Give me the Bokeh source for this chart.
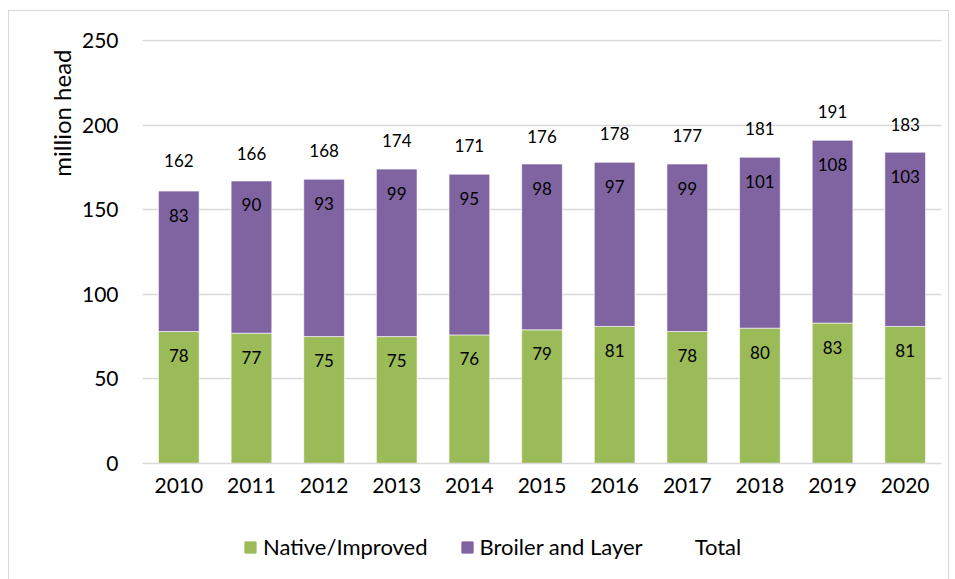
from bokeh.plotting import figure
from bokeh.models import (ColumnDataSource, LabelSet, Legend, LegendItem, FactorRange, Range1d, Title)
from bokeh.layouts import column
from bokeh.core.properties import value
from bokeh.embed import file_html
from bokeh.resources import INLINE

years = ["2010", "2011", "2012", "2013", "2014", "2015", "2016", "2017", "2018", "2019", "2020"]
native = [78, 77, 75, 75, 76, 79, 81, 78, 80, 83, 81]
broiler = [83, 90, 93, 99, 95, 98, 97, 99, 101, 108, 103]
total = [162, 166, 168, 174, 171, 176, 178, 177, 181, 191, 183]
y_ticks = [0, 50, 100, 150, 200, 250]
y_title = "million head"
series_names = ["Native/Improved", "Broiler and Layer", "Total"]

FONT = "Lato"
GREEN = "#9BBB59"
PURPLE = "#8064A2"
GRID = "#D9D9D9"

stack_top = [n + b for n, b in zip(native, broiler)]
src = ColumnDataSource(dict(
    year=years, native=native, broiler=broiler, total=total,
    native_s=[str(v) for v in native], broiler_s=[str(v) for v in broiler],
    total_s=[str(v) for v in total], top=stack_top,
))

p = figure(x_range=FactorRange(*years), y_range=Range1d(0, 250.6),
           width=939, height=504, output_backend="svg", toolbar_location=None,
           min_border_left=133, min_border_right=7, min_border_top=28, min_border_bottom=52)
p.outline_line_color = None

r = p.vbar_stack(["native", "broiler"], x="year", width=0.56, source=src,
                 color=[GREEN, PURPLE], line_color="white", line_width=1, line_alpha=0.6)

common = dict(source=src, text_font=value(FONT), text_font_size="17px", text_color="#000000",
              text_align="center", text_baseline="middle")
p.add_layout(LabelSet(x="year", y="native", text="native_s", y_offset=-24, **common))
p.add_layout(LabelSet(x="year", y="top", text="broiler_s", y_offset=-24, **common))
p.add_layout(LabelSet(x="year", y="total", text="total_s", y_offset=29, **common))

p.xgrid.grid_line_color = None
p.ygrid.grid_line_color = GRID
p.ygrid.grid_line_width = 1.5
p.yaxis.ticker = y_ticks

for ax in (p.xaxis, p.yaxis):
    ax.major_tick_line_color = None
    ax.minor_tick_line_color = None
    ax.major_tick_out = 0
    ax.minor_tick_out = 0
    ax.major_label_text_font = FONT
    ax.major_label_text_font_size = "21px"
    ax.major_label_text_color = "#000000"

p.yaxis.axis_line_color = None
p.yaxis.major_label_standoff = 24

p.xaxis.axis_line_color = GRID
p.xaxis.axis_line_width = 1.5
p.xaxis.major_label_standoff = 14

# y-axis title near the top of the axis, as in the reference
p.add_layout(Title(text=y_title, align="right", offset=10, standoff=6,
                   text_font=FONT, text_font_size="24px", text_font_style="normal",
                   text_color="#000000"), "left")

# legend strip below the chart (swatch glyphs sit outside its visible range)
leg = figure(width=939, height=64, output_backend="svg", toolbar_location=None,
             x_axis_type=None, y_axis_type=None, x_range=Range1d(0, 1), y_range=Range1d(0, 1),
             min_border=0)
leg.outline_line_color = None
leg.xgrid.grid_line_color = None
leg.ygrid.grid_line_color = None
lg1 = leg.vbar(x=[-5], top=[-5], width=0.5, fill_color=GREEN, line_color=GREEN)
lg2 = leg.vbar(x=[-5], top=[-5], width=0.5, fill_color=PURPLE, line_color=PURPLE)
lg3 = leg.line(x=[-5, -4], y=[-5, -5], line_alpha=0)

legend = Legend(items=[
    LegendItem(label=series_names[0], renderers=[lg1]),
    LegendItem(label=series_names[1], renderers=[lg2]),
    LegendItem(label=series_names[2], renderers=[lg3]),
], orientation="horizontal", location=(101, 19))
legend.label_text_font = FONT
legend.label_text_font_size = "22px"
legend.label_text_color = "#000000"
legend.glyph_width = 14
legend.glyph_height = 14
legend.label_height = 20
legend.label_standoff = 6
legend.spacing = 32
legend.padding = 10
legend.margin = 0
legend.border_line_color = None
legend.background_fill_alpha = 0
leg.add_layout(legend, "center")

layout = column(p, leg, spacing=0)
layout.margin = (10, 0, 0, 8)
layout.styles = {"border": "1px solid #D9D9D9"}

open("out.html", "w").write(file_html(layout, INLINE))
